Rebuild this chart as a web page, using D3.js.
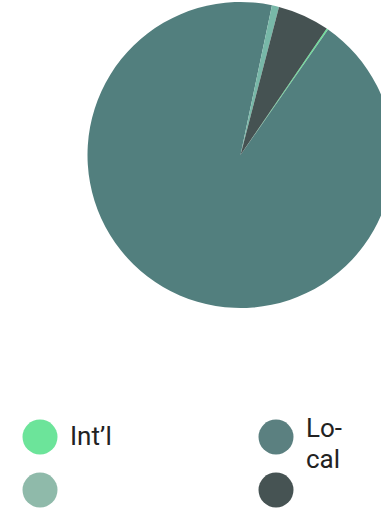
<!DOCTYPE html>
<html><head><meta charset="utf-8">
<script src="https://cdn.jsdelivr.net/npm/d3@7"></script>
<style>html,body{margin:0;padding:0;background:#fff;overflow:hidden}</style>
</head><body>
<svg id="c" width="381" height="515"></svg>
<script>
const categories = ["Int\u2019l", "Local", "", ""];
const values = [0.17, 93.6, 0.75, 5.48];
const colors = ["#6ce49a", "#527f7e", "#78b8a8", "#455252"];
const legendColors = ["#6ce49a", "#5b8080", "#8fbaaa", "#465353"];
const legendLines = [["Int\u2019l"], ["Lo-", "cal"], [], []];

const svg = d3.select("#c");
const cx = 240.5, cy = 155, r = 153;
const startDeg = 34.3;
const pie = d3.pie().sort(null).value(d => d)
  .startAngle(startDeg * Math.PI / 180).endAngle((startDeg + 360) * Math.PI / 180);
const arc = d3.arc().innerRadius(0).outerRadius(r);
svg.append("g").attr("transform", `translate(${cx},${cy})`)
  .selectAll("path").data(pie(values)).join("path")
  .attr("d", arc).attr("fill", (d, i) => colors[i]);

const cols = [40, 276], rows = [437, 490];
const lg = svg.append("g");
categories.forEach((c, i) => {
  const x = cols[i % 2], y = rows[Math.floor(i / 2)];
  lg.append("circle").attr("cx", x).attr("cy", y).attr("r", 17.5).attr("fill", legendColors[i]);
  const t = lg.append("text").attr("x", x + 30).attr("y", y + 8)
    .attr("font-family", "Roboto, sans-serif").attr("font-size", 26).attr("fill", "#222");
  legendLines[i].forEach((l, j) => {
    t.append("tspan").attr("x", x + 30).attr("y", (legendLines[i].length > 1 ? y : y + 8) + j * 31).text(l);
  });
});
</script>
</body></html>
